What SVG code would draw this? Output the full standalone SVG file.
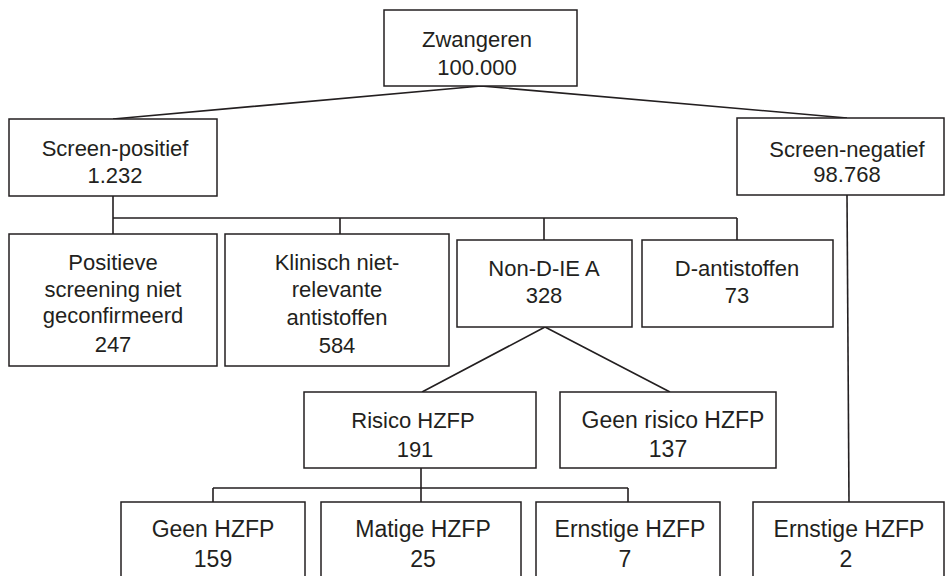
<svg xmlns="http://www.w3.org/2000/svg" width="945" height="576" viewBox="0 0 945 576">
<style>
.n rect{fill:#fff;stroke:#231f20;stroke-width:1.5}
text{font-family:"Liberation Sans",Arial,sans-serif;font-size:22px;fill:#231f20;text-anchor:middle}
.c{fill:none;stroke:#231f20;stroke-width:1.6}
.b{font-size:23px}
</style>
<rect width="945" height="576" style="fill:#fff;stroke:none"/>
<g id="connectors">
<path class="c" d="M481 86 L113 119 M481 86 L847 118"/>
<path class="c" stroke-width="2" d="M113 196 V218 M113 218 H737 M113 218 V234 M340 218 V234 M544 218 V240 M737 218 V240"/>
<path class="c" d="M545 327 L422 392 M545 327 L670 392"/>
<path class="c" d="M847 195 L849 502"/>
<path class="c" d="M421 468 V502 M213 488 H628 M213 488 V502 M628 488 V502"/>
</g>
<g id="zwangeren" class="n"><rect x="384" y="10" width="193" height="76"/><text x="477" y="47">Zwangeren</text><text x="477" y="75">100.000</text></g>
<g id="screen-positief" class="n"><rect x="9" y="119" width="208" height="77"/><text x="115" y="156">Screen-positief</text><text x="115" y="183">1.232</text></g>
<g id="screen-negatief" class="n"><rect x="737" y="118" width="207" height="77"/><text x="847" y="157">Screen-negatief</text><text x="847" y="182">98.768</text></g>
<g id="positieve" class="n"><rect x="9" y="234" width="208" height="132"/><text x="113" y="270">Positieve</text><text x="113" y="297">screening niet</text><text x="113" y="323">geconfirmeerd</text><text x="113" y="352" font-size="24">247</text></g>
<g id="klinisch" class="n"><rect x="225" y="234" width="224" height="132"/><text x="337" y="270">Klinisch niet-</text><text x="337" y="297">relevante</text><text x="337" y="325">antistoffen</text><text x="337" y="353">584</text></g>
<g id="non-d" class="n"><rect x="457" y="240" width="175" height="87"/><text x="544" y="276">Non-D-IE A</text><text x="544" y="303">328</text></g>
<g id="d-antistoffen" class="n"><rect x="642" y="240" width="191" height="87"/><text x="737" y="276">D-antistoffen</text><text x="737" y="303">73</text></g>
<g id="risico" class="n"><rect x="304" y="392" width="232" height="76"/><text x="413" y="428" font-size="21">Risico HZFP</text><text x="415" y="457">191</text></g>
<g id="geen-risico" class="n"><rect x="560" y="392" width="216" height="76"/><text x="673" y="428" class="b">Geen risico HZFP</text><text x="668" y="457" class="b">137</text></g>
<g id="geen-hzfp" class="n"><rect x="121" y="502" width="184" height="80"/><text x="213" y="537" class="b">Geen HZFP</text><text x="213" y="567" class="b">159</text></g>
<g id="matige-hzfp" class="n"><rect x="321" y="502" width="200" height="80"/><text x="423" y="537" class="b">Matige HZFP</text><text x="423" y="567" class="b">25</text></g>
<g id="ernstige-7" class="n"><rect x="536" y="502" width="184" height="80"/><text x="630" y="537" class="b">Ernstige HZFP</text><text x="625" y="567" class="b">7</text></g>
<g id="ernstige-2" class="n"><rect x="753" y="502" width="191" height="80"/><text x="849" y="537" class="b">Ernstige HZFP</text><text x="846" y="567" class="b">2</text></g>
</svg>
